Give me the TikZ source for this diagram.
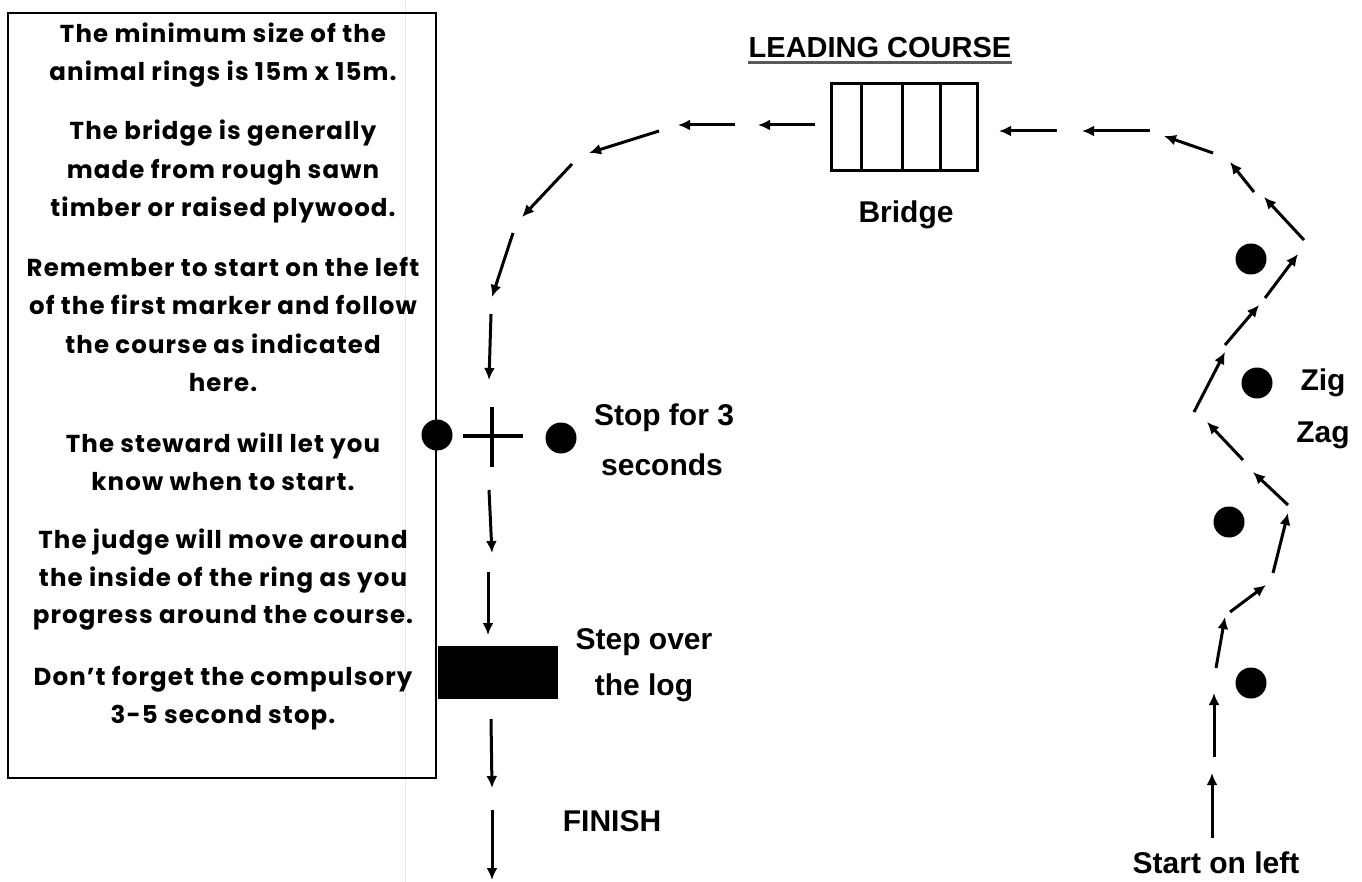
\documentclass[tikz,border=0pt]{standalone}
\usepackage{fontspec}
\usetikzlibrary{arrows.meta}
\newfontfamily\boxfont[LetterSpace=4.5]{Poppins}
\newfontfamily\labfont{Liberation Sans}
\definecolor{faint}{RGB}{222,230,240}
\definecolor{ulgray}{RGB}{90,90,90}
\tikzset{
  arr/.style={line width=3pt,-{Latex[length=12pt,width=11pt]}},
  boxline/.style={anchor=base,inner sep=0pt,font=\boxfont\bfseries\fontsize{24.5}{28}\selectfont},
  lab/.style={anchor=base,inner sep=0pt,font=\labfont\bfseries\fontsize{30}{34}\selectfont},
  dot/.style={circle,fill=black,minimum size=31pt,inner sep=0pt},
}
\begin{document}
\begin{tikzpicture}[x=1pt,y=-1pt]
\useasboundingbox (0,0) rectangle (1362,882);
\fill[white] (0,0) rectangle (1362,882);
% faint page edge line
\draw[faint,line width=1pt] (405,0) -- (405,882);
% text box
\node[draw,line width=2pt,minimum width=428pt,minimum height=765pt,inner sep=0pt,anchor=north west] (box) at (7,12) {};
\foreach \yy/\tt in {43/The minimum size of the,81/animal rings is 15m x 15m.,
  140/The bridge is generally,179/made from rough sawn,217/timber or raised plywood.,
  277/Remember to start on the left,315/of the first marker and follow,353/the course as indicated,391/here.,
  452/The steward will let you,490/know when to start.,
  548/The judge will move around,586/the inside of the ring as you,623/progress around the course.,
  685/Don’t forget the compulsory,723/3-5 second stop.}
  \node[boxline] at (223,\yy) {\tt};
% title
\node[lab,font=\labfont\bfseries\fontsize{29}{33}\selectfont] (title) at (880,58) {LEADING COURSE};
\draw[ulgray,line width=3pt] ([yshift=-5pt]title.base west) -- ([yshift=-5pt]title.base east);
% bridge
\node[draw,line width=3pt,minimum width=146pt,minimum height=87pt,inner sep=0pt,anchor=north west] (bridge) at (830,82) {};
\draw[line width=3pt] (861,82) -- (861,169) (902,82) -- (902,169) (940,82) -- (940,169);
\node[lab] (bridgelab) at (906,223) {Bridge};
% stop cross and markers
\coordinate (cross) at (492,436);
\draw[line width=3.5pt] (463,436) -- (523,436) (492,407) -- (492,467);
\node[dot] (s1) at (437,435) {};
\node[dot] (s2) at (561,438) {};
\node[lab] (stop1) at (664,425) {Stop for 3};
\node[lab] (stop2) at (662,475) {seconds};
% log
\node[fill=black,minimum width=120pt,minimum height=53pt,inner sep=0pt,anchor=north west] (log) at (438,646) {};
\node[lab] (step1) at (644,649) {Step over};
\node[lab] (step2) at (644,695) {the log};
\node[lab] (finish) at (612,831) {FINISH};
% zig zag markers
\node[dot] (z1) at (1251,259) {};
\node[dot] (z2) at (1257,383) {};
\node[dot] (z3) at (1229,522) {};
\node[dot] (z4) at (1251,683) {};
\node[lab] (zig) at (1323,390) {Zig};
\node[lab] (zag) at (1323,442) {Zag};
\node[lab] (start) at (1216,873) {Start on left};
% course arrows
\foreach \i/\ax/\ay/\bx/\by in {
  1/1212/838/1212/773, 2/1214/757/1214/693, 3/1216/668/1225/617, 4/1230/612/1266/585,
  5/1273/573/1288/513, 6/1288/505/1253/472, 7/1243/460/1207/422, 8/1194/412/1225/352,
  9/1225/345/1259/305, 10/1265/298/1298/254, 11/1304/240/1264/197, 12/1254/192/1230/162,
  13/1213/153/1164/136, 14/1150/131/1082/131, 15/1057/131/999/131,
  16/815/125/758/125, 17/735/125/678/125, 18/659/131/589/153, 19/572/164/522/217,
  20/513/233/492/297, 21/491/314/489/380, 22/489/490/492/553, 23/488/572/488/635,
  24/491/719/492/788, 25/492/810/492/880}{
  \coordinate (t\i) at (\ax,\ay);
  \coordinate (h\i) at (\bx,\by);
  \draw[arr] (t\i) -- (h\i);
}
\end{tikzpicture}
\end{document}
